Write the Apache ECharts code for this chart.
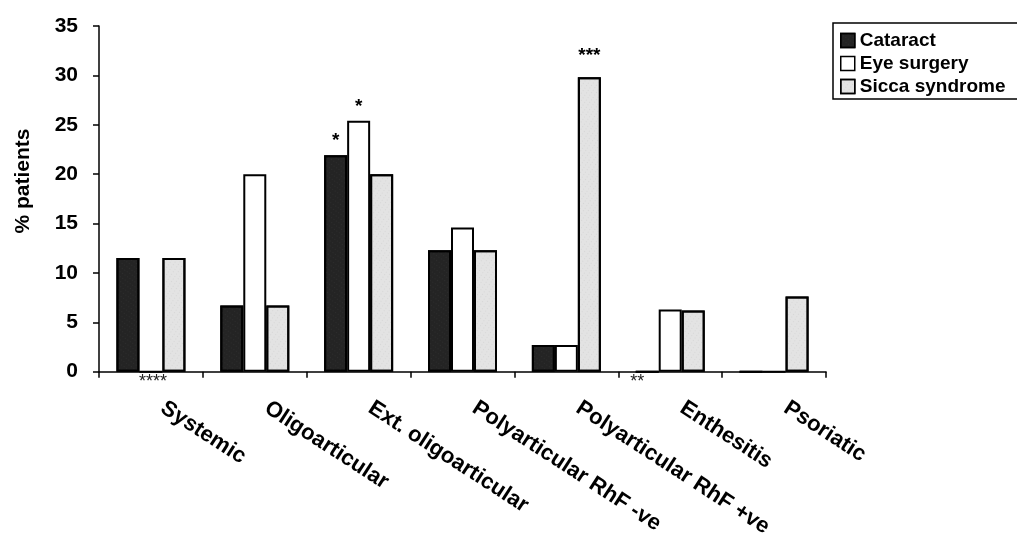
<!DOCTYPE html>
<html>
<head>
<meta charset="utf-8">
<script src="https://cdn.jsdelivr.net/npm/echarts@6/dist/echarts.min.js"></script>
<style>
  html, body { margin: 0; padding: 0; background: #fff; }
  #chart { width: 1017px; height: 540px; }
</style>
</head>
<body>
<div id="chart"></div>
<script>
// Ocular complications by JIA subtype (% of patients)
const categories = ['Systemic', 'Oligoarticular', 'Ext. oligoarticular', 'Polyarticular RhF -ve', 'Polyarticular RhF +ve', 'Enthesitis', 'Psoriatic'];
const cataract   = [11.5, 6.7, 21.9, 12.3, 2.7, 0, 0];
const eyeSurgery = [0, 20.0, 25.4, 14.6, 2.7, 6.3, 0];
const sicca      = [11.5, 6.7, 20.0, 12.3, 29.8, 6.2, 7.6];

// significance markers per bar
const cataractMarks   = ['', '', '*', '', '', '**', ''];
const eyeSurgeryMarks = ['****', '', '*', '', '', '', ''];
const siccaMarks      = ['', '', '', '', '***', '', ''];

const FONT = '"Liberation Sans", Arial, Helvetica, sans-serif';

function buildData(values, marks) {
  return values.map((v, i) => {
    const m = marks[i];
    if (!m) return { value: v, label: { show: false } };
    if (v === 0) {
      // markers for empty bars sit just under the axis
      return {
        value: v,
        label: { show: true, position: 'bottom', distance: 0, formatter: m,
                 offset: [m.length === 2 ? -10 : 2, 0],
                 fontSize: 18, fontWeight: 'normal', color: '#222', fontFamily: FONT }
      };
    }
    return {
      value: v,
      label: { show: true, position: 'top', distance: m.length > 1 ? 12 : 5, formatter: m,
               fontSize: 19, fontWeight: 'bold', color: '#000', fontFamily: FONT }
    };
  });
}

const stroke = { borderColor: '#000', borderWidth: 2 };

const seriesDefs = [
  { name: 'Cataract', values: cataract, marks: cataractMarks,
    style: { color: '#242424', decal: { symbol: 'rect', symbolSize: 0.5, color: 'rgba(255,255,255,0.18)', dashArrayX: [1, 2], dashArrayY: [1, 3], rotation: 0.6 } } },
  { name: 'Eye surgery', values: eyeSurgery, marks: eyeSurgeryMarks,
    style: { color: '#ffffff' } },
  { name: 'Sicca syndrome', values: sicca, marks: siccaMarks,
    style: { color: '#e3e3e3', decal: { symbol: 'rect', symbolSize: 0.5, color: 'rgba(90,90,90,0.35)', dashArrayX: [1, 3], dashArrayY: [1, 2], rotation: 0.6 } } }
];

const chart = echarts.init(document.getElementById('chart'), null, { renderer: 'canvas' });

chart.setOption({
  animation: false,
  backgroundColor: '#fff',
  textStyle: { fontFamily: FONT },
  grid: { left: 99, right: 191, top: 26, bottom: 167, containLabel: false },
  legend: {
    orient: 'vertical',
    left: 833,
    top: 23,
    itemWidth: 14,
    itemHeight: 14,
    itemGap: 4,
    padding: [8, 30, 3, 7],
    borderColor: '#000',
    borderWidth: 1.5,
    textStyle: { fontFamily: FONT, fontSize: 19, fontWeight: 'bold', color: '#000' },
    data: seriesDefs.map(s => ({
      name: s.name,
      icon: 'rect',
      itemStyle: Object.assign({}, s.style, { borderColor: '#000', borderWidth: 1.5 })
    }))
  },
  xAxis: {
    type: 'category',
    data: categories,
    axisLine: { lineStyle: { color: '#000', width: 1.5 } },
    axisTick: { show: true, alignWithLabel: false, length: 6, inside: false, lineStyle: { color: '#000', width: 1.5 } },
    axisLabel: {
      interval: 0,
      rotate: -33,
      margin: 27,
      padding: [0, 0, 0, 14],
      fontFamily: FONT,
      fontSize: 22,
      fontWeight: 'bold',
      color: '#000'
    },
    splitLine: { show: false }
  },
  yAxis: {
    type: 'value',
    min: 0,
    max: 35,
    interval: 5,
    axisLine: { show: true, lineStyle: { color: '#000', width: 1.5 } },
    axisTick: { show: true, length: 6, lineStyle: { color: '#000', width: 1.5 } },
    axisLabel: { margin: 21, fontFamily: FONT, fontSize: 21, fontWeight: 'bold', color: '#000' },
    splitLine: { show: false }
  },
  graphic: [{
    type: 'text',
    x: 23,
    y: 181,
    rotation: Math.PI / 2,
    style: {
      text: '% patients',
      fontFamily: FONT,
      fontSize: 21,
      fontWeight: 'bold',
      fill: '#000',
      textAlign: 'center',
      textVerticalAlign: 'middle'
    }
  }],
  series: seriesDefs.map(s => ({
    name: s.name,
    type: 'bar',
    barWidth: 23,
    barGap: '0%',
    itemStyle: Object.assign({}, s.style, stroke),
    emphasis: { disabled: true },
    data: buildData(s.values, s.marks)
  }))
});
</script>
</body>
</html>
